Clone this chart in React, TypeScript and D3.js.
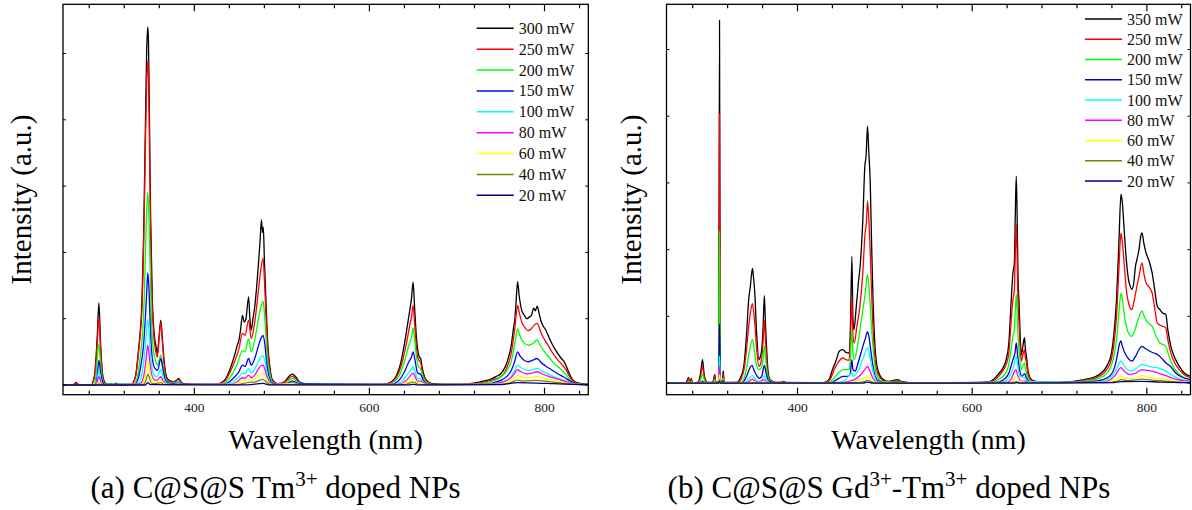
import React from 'react';
import * as d3 from 'd3';

type P = [number, number];

// ---------- Panel (a): C@S@S Tm3+ ----------
const a300: P[] = [[250,0],[262,0],[265,0.04],[268,0],[282,0],[286,0.15],[289,0.7],[291,1.24],[293,0.6],[296,0.1],[300,0.01],[308,0],[310.5,0.03],[313,0],[328,0.01],[333,0.15],[336,0.5],[338,0.78],[340,1.2],[342,2.2],[344,3.8],[345.5,5.0],[346.8,5.4],[347.6,5.2],[348.5,4.3],[350,2.6],[352,1.3],[354,0.8],[356,0.6],[357.8,0.48],[359.5,0.7],[361.7,0.98],[363.5,0.7],[366,0.3],[369,0.1],[373,0.06],[378,0.05],[382,0.1],[386,0.03],[395,0.01],[425,0.01],[435,0.08],[441,0.25],[446,0.45],[449,0.6],[451,0.68],[453,0.85],[455,1.05],[457,0.95],[459,1.0],[462,1.33],[463.5,1.0],[465,0.83],[467,1.0],[469,1.18],[471,1.45],[473,1.78],[475,2.15],[476.7,2.49],[477.8,2.3],[478.8,2.38],[480,1.9],[482,1.2],[484,0.6],[486.5,0.25],[489,0.08],[495,0.02],[503,0.05],[508,0.13],[512,0.165],[516,0.12],[520,0.05],[527,0.02],[540,0.01],[615,0.01],[625,0.05],[630,0.12],[636,0.35],[641,0.7],[644,0.95],[646,1.12],[648,1.3],[649.9,1.55],[651.5,1.2],[653.5,0.75],[655.5,0.5],[657,0.42],[658.6,0.4],[660,0.28],[663,0.12],[667,0.05],[672,0.02],[685,0.01],[700,0.01],[719,0.03],[730,0.06],[739,0.09],[745,0.13],[750,0.17],[755,0.27],[758,0.38],[762,0.6],[764.5,0.85],[766,0.98],[767.5,1.25],[769.2,1.56],[771,1.35],[773.9,1.13],[777,1.05],[780,1.0],[782,1.02],[785,1.05],[787.7,1.16],[789.5,1.12],[791.6,1.19],[793.5,1.1],[795.6,0.98],[798,0.9],[801.5,0.83],[805,0.72],[809.4,0.6],[813,0.52],[816,0.46],[819.2,0.4],[822,0.36],[825,0.28],[828,0.18],[832,0.08],[836,0.04],[842,0.02],[850,0.01]];
const a250: P[] = [[250,0],[263,0],[265,0.03],[268,0],[282,0],[286,0.12],[289,0.6],[291,1.04],[293,0.5],[296,0.08],[300,0.01],[328,0.01],[333,0.13],[336,0.45],[338,0.72],[340,1.1],[342,2.0],[344,3.5],[345.5,4.5],[346.8,4.89],[347.6,4.7],[348.5,3.9],[350,2.3],[352,1.15],[354,0.7],[356,0.5],[357.8,0.42],[359.5,0.65],[361.7,0.95],[363.5,0.65],[366,0.25],[369,0.08],[373,0.04],[382,0.08],[386,0.02],[395,0.01],[425,0.01],[435,0.06],[441,0.2],[446,0.35],[451,0.55],[455,0.78],[458,0.75],[462,0.98],[465,0.7],[469,0.95],[473,1.4],[476,1.75],[478.6,1.91],[480,1.6],[482,1.0],[484,0.5],[486.5,0.2],[489,0.06],[495,0.02],[503,0.04],[508,0.1],[512,0.13],[516,0.09],[520,0.04],[530,0.01],[615,0.01],[625,0.04],[630,0.1],[636,0.28],[641,0.55],[644,0.75],[646,0.9],[648,1.02],[649.9,1.2],[651.5,0.95],[653.5,0.6],[655.5,0.4],[658.6,0.33],[660,0.22],[663,0.1],[667,0.04],[675,0.01],[700,0.01],[719,0.02],[730,0.04],[739,0.07],[750,0.13],[755,0.2],[758,0.3],[762,0.48],[764.5,0.7],[766,0.85],[767.5,1.05],[769.2,1.2],[771,1.1],[773.9,0.95],[777,0.88],[781,0.82],[785,0.85],[788,0.9],[791.6,0.93],[795.6,0.8],[801.5,0.65],[805,0.58],[809.4,0.48],[815,0.38],[819.2,0.32],[825,0.22],[828,0.14],[832,0.07],[836,0.03],[842,0.015],[850,0.01]];
const a200: P[] = [[250,0],[286,0],[288,0.2],[291,0.62],[293,0.3],[297,0.02],[330,0.01],[335,0.12],[338,0.4],[341,0.8],[343,1.4],[345,2.4],[346.8,2.91],[348,2.6],[349.5,1.8],[351,1.0],[353,0.55],[356,0.35],[358,0.3],[361.7,0.45],[364,0.3],[367,0.1],[372,0.03],[382,0.05],[386,0.01],[430,0.01],[438,0.07],[444,0.18],[449,0.32],[455,0.52],[458,0.5],[462,0.7],[465,0.5],[469,0.68],[473,0.98],[476,1.18],[478.6,1.26],[480,1.1],[482,0.7],[484,0.35],[487,0.12],[490,0.03],[500,0.01],[506,0.05],[512,0.1],[518,0.05],[525,0.01],[620,0.01],[630,0.07],[636,0.2],[641,0.4],[645,0.6],[648,0.72],[649.9,0.86],[651.5,0.7],[654,0.4],[656,0.28],[658.6,0.24],[661,0.13],[665,0.04],[672,0.01],[720,0.01],[735,0.04],[745,0.08],[752,0.14],[758,0.24],[762,0.36],[765,0.55],[767,0.7],[769.2,0.85],[771,0.78],[774,0.68],[778,0.62],[782,0.6],[787,0.63],[791.6,0.68],[795,0.6],[800,0.5],[805,0.42],[810,0.34],[815,0.28],[820,0.22],[825,0.15],[829,0.08],[834,0.03],[842,0.01],[850,0.01]];
const a150: P[] = [[250,0],[287,0],[289,0.12],[291,0.37],[293,0.18],[297,0.01],[332,0.01],[336,0.1],[339,0.3],[342,0.6],[344,1.0],[345.8,1.45],[346.8,1.69],[348,1.5],[350,0.8],[352,0.4],[355,0.25],[358,0.22],[361.7,0.4],[364,0.25],[367,0.07],[372,0.02],[382,0.03],[388,0.01],[432,0.01],[440,0.05],[446,0.12],[451,0.2],[455,0.3],[458,0.28],[462,0.4],[465,0.3],[469,0.4],[473,0.58],[476,0.7],[478.6,0.75],[480.5,0.62],[483,0.3],[486,0.1],[490,0.02],[505,0.02],[512,0.06],[520,0.02],[625,0.01],[633,0.06],[640,0.2],[645,0.35],[648,0.42],[649.9,0.5],[652,0.38],[655,0.18],[658.6,0.16],[662,0.06],[668,0.01],[725,0.01],[740,0.03],[750,0.07],[757,0.13],[762,0.22],[766,0.36],[769.2,0.5],[772,0.44],[776,0.38],[781,0.35],[786,0.37],[791.6,0.4],[796,0.34],[802,0.28],[808,0.23],[815,0.17],[822,0.12],[828,0.07],[834,0.03],[842,0.01],[850,0.01]];
const a100: P[] = [[250,0],[288,0],[291,0.22],[294,0.03],[297,0],[336,0.02],[340,0.15],[343,0.45],[345.5,0.8],[346.8,0.99],[348,0.85],[350,0.45],[353,0.18],[357,0.12],[361.7,0.23],[364,0.14],[368,0.03],[375,0.01],[382,0.02],[388,0.005],[435,0.01],[444,0.05],[451,0.12],[455,0.18],[458,0.17],[462,0.25],[465,0.18],[469,0.24],[473,0.35],[476,0.42],[478.6,0.44],[480.5,0.36],[483,0.18],[486,0.06],[490,0.01],[505,0.01],[512,0.04],[520,0.01],[630,0.01],[638,0.07],[644,0.17],[648,0.24],[649.9,0.28],[652,0.2],[655,0.1],[658.6,0.09],[663,0.03],[670,0.005],[730,0.01],[745,0.03],[755,0.06],[762,0.13],[766,0.22],[769.2,0.3],[773,0.26],[780,0.22],[786,0.23],[791.6,0.25],[797,0.21],[805,0.16],[812,0.12],[820,0.08],[828,0.04],[836,0.015],[850,0.005]];
const a80: P[] = [[250,0],[288,0],[291,0.125],[294,0.02],[297,0],[338,0.02],[342,0.12],[345,0.4],[346.8,0.6],[348,0.5],[350,0.26],[353,0.1],[357,0.07],[361.7,0.125],[364,0.07],[369,0.01],[382,0.01],[440,0.01],[449,0.05],[455,0.11],[458,0.1],[462,0.15],[465,0.11],[469,0.15],[473,0.24],[476,0.29],[478.6,0.3],[480.5,0.24],[483,0.12],[486,0.04],[490,0.01],[512,0.03],[520,0.005],[632,0.01],[640,0.05],[645,0.11],[649.9,0.18],[652,0.13],[655,0.06],[658.6,0.06],[663,0.02],[670,0.005],[735,0.01],[750,0.04],[760,0.09],[765,0.16],[769.2,0.23],[773,0.2],[780,0.17],[786,0.18],[791.6,0.2],[797,0.17],[805,0.13],[812,0.1],[820,0.07],[828,0.04],[836,0.015],[850,0.005]];
const a60: P[] = [[250,0],[288,0],[291,0.05],[294,0.005],[340,0.01],[344,0.12],[346.8,0.36],[348.5,0.26],[351,0.08],[355,0.04],[361.7,0.075],[365,0.03],[370,0.005],[445,0.01],[455,0.06],[462,0.09],[465,0.07],[469,0.09],[474,0.15],[478.6,0.18],[481,0.13],[484,0.05],[489,0.005],[512,0.02],[520,0.003],[635,0.005],[643,0.04],[649.9,0.09],[653,0.05],[658.6,0.03],[665,0.005],[740,0.01],[755,0.03],[763,0.07],[769.2,0.15],[774,0.12],[781,0.11],[791.6,0.13],[800,0.1],[810,0.07],[820,0.045],[830,0.02],[840,0.008],[850,0.003]];
const a40: P[] = [[250,0],[290,0],[291,0.02],[293,0],[342,0.01],[345,0.08],[346.8,0.165],[348.5,0.12],[351,0.03],[356,0.02],[361.7,0.035],[366,0.005],[450,0.005],[462,0.04],[469,0.045],[474,0.07],[478.6,0.085],[482,0.05],[487,0.005],[640,0.005],[649.9,0.045],[655,0.015],[665,0.002],[745,0.01],[760,0.03],[769.2,0.075],[776,0.06],[791.6,0.07],[805,0.05],[820,0.03],[835,0.012],[850,0.003]];
const a20: P[] = [[250,0],[344,0],[346.8,0.035],[350,0.005],[460,0.003],[478.6,0.025],[485,0.003],[645,0.003],[649.9,0.01],[655,0.002],[750,0.005],[769.2,0.035],[791.6,0.03],[810,0.02],[830,0.01],[850,0.002]];

const labelsA = ['300 mW', '250 mW', '200 mW', '150 mW', '100 mW', '80 mW', '60 mW', '40 mW', '20 mW'];
const colorsA = ['#000000', '#FF0000', '#00FF00', '#0000FF', '#00FFFF', '#FF00FF', '#FFFF00', '#808000', '#000080'];
const seriesA = [a300, a250, a200, a150, a100, a80, a60, a40, a20];

// ---------- Panel (b): C@S@S Gd3+-Tm3+ ----------
const b350: P[] = [[250,0],[272,0],[274,0.05],[275.3,0.085],[276.5,0.01],[277.5,0.03],[278.4,0.07],[279.5,0.005],[286,0.01],[289,0.15],[291.2,0.35],[293.5,0.1],[297,0.01],[303,0.01],[305.2,0.125],[306.5,0.01],[309.8,0.02],[310.7,5.44],[311.6,0.05],[314,0.03],[315,0.18],[316,0.01],[330,0.01],[334.8,0.08],[338.7,0.27],[341.5,0.7],[344.1,1.25],[346,1.45],[348.4,1.72],[349.5,1.6],[351.1,1.35],[353,0.8],[355.8,0.35],[357.5,0.4],[359,0.5],[360.5,0.8],[362,1.31],[363.3,0.9],[364.7,0.5],[366.5,0.15],[368.6,0.05],[375,0.01],[382,0.01],[384.2,0.025],[387,0.005],[430,0.005],[436,0.05],[440,0.2],[444.5,0.35],[448,0.48],[452.2,0.5],[455.3,0.46],[458.8,0.45],[460.5,0.8],[462.3,1.9],[463.5,0.95],[464.7,0.8],[467,1.1],[469.7,1.5],[472,1.8],[474.8,2.45],[477.1,3.25],[478.5,3.4],[480.2,3.85],[481.5,3.5],[483.3,3.0],[485,2.0],[486.5,1.25],[488.5,0.6],[491.1,0.25],[495,0.1],[498.9,0.05],[505,0.02],[510,0.04],[514.5,0.05],[520,0.02],[530,0.005],[600,0.005],[620,0.02],[631.1,0.15],[635,0.22],[638.9,0.35],[642,0.6],[644.5,1.2],[646.7,1.65],[648.3,1.8],[649.5,2.6],[650.5,3.1],[651.5,2.5],[652.5,1.6],[653.7,1.2],[655,0.7],[656.4,0.42],[658,0.55],[659.9,0.68],[661,0.5],[662.2,0.4],[664,0.18],[668.1,0.05],[675,0.02],[700,0.01],[728.3,0.05],[740,0.09],[747.8,0.15],[754,0.25],[759.5,0.45],[762,0.7],[765.3,1.25],[768,2.1],[770.4,2.83],[772,2.7],[774.3,2.25],[776.5,1.85],[779,1.55],[781,1.45],[782.8,1.4],[785,1.5],[787,1.75],[788.6,1.85],[791,2.0],[793,2.2],[794.5,2.25],[796.5,2.1],[799.1,1.95],[802,1.85],[806.1,1.65],[809,1.4],[812,1.15],[815,1.1],[818,1.05],[821.7,1.03],[824,0.8],[827.5,0.55],[832,0.38],[837.2,0.25],[843,0.15],[850,0.1]];
const b250: P[] = [[250,0],[273,0],[275.3,0.07],[276.5,0.01],[278.4,0.06],[279.5,0.005],[287,0.01],[289,0.1],[291.2,0.25],[293.5,0.07],[297,0.005],[303,0.005],[305.2,0.11],[306.5,0.005],[309.8,0.02],[310.7,4.04],[311.6,0.04],[314,0.02],[315,0.14],[316,0.005],[332,0.01],[336,0.08],[338.7,0.2],[342,0.55],[344.1,0.85],[346,1.05],[348.4,1.19],[349.5,1.1],[351.1,0.9],[353,0.55],[355.8,0.25],[358,0.3],[359,0.38],[360.5,0.6],[362,0.94],[363.3,0.65],[364.7,0.35],[366.5,0.1],[369,0.03],[375,0.005],[384,0.015],[388,0.003],[432,0.005],[438,0.07],[442,0.2],[446,0.3],[452.2,0.375],[455.3,0.35],[459,0.34],[460.5,0.6],[462.3,1.3],[463.5,0.7],[465,0.6],[468,0.85],[471,1.1],[474.8,1.65],[477.1,2.2],[478.8,2.4],[480.2,2.73],[481.5,2.5],[483.3,1.95],[485,1.3],[486.5,0.8],[488.5,0.4],[491.1,0.17],[495,0.07],[500,0.03],[510,0.03],[514.5,0.04],[520,0.015],[530,0.005],[610,0.005],[622,0.02],[631.1,0.11],[636,0.2],[639,0.28],[642,0.45],[644.5,0.9],[646.7,1.25],[648.3,1.4],[649.5,2.0],[650.5,2.38],[651.5,1.9],[652.5,1.2],[653.7,0.9],[655,0.5],[656.4,0.33],[658,0.42],[659.9,0.5],[661,0.38],[662.2,0.3],[664,0.13],[668,0.04],[675,0.015],[700,0.01],[728,0.04],[740,0.07],[748,0.12],[754,0.2],[759.5,0.36],[762,0.55],[765.3,1.0],[768,1.7],[770.4,2.25],[772,2.1],[774.3,1.75],[776.5,1.4],[779,1.2],[782.8,1.1],[785,1.2],[788.6,1.45],[791,1.6],[794.5,1.8],[796.5,1.65],[799.1,1.5],[802,1.45],[806.1,1.35],[809,1.12],[812,0.9],[815,0.87],[818,0.85],[821.7,0.83],[824,0.65],[827.5,0.45],[832,0.3],[837.2,0.2],[843,0.12],[850,0.08]];
const b200: P[] = [[250,0],[274,0],[275.3,0.03],[277,0],[278.4,0.02],[280,0],[288,0.01],[291.2,0.125],[294,0.02],[298,0],[304,0.005],[305.2,0.05],[306.5,0.005],[309.8,0.01],[310.7,2.28],[311.6,0.02],[315,0.07],[316,0.005],[335,0.01],[339,0.08],[342,0.25],[344.1,0.42],[346,0.55],[348.4,0.65],[350,0.55],[352,0.35],[355.8,0.2],[358,0.22],[360.5,0.35],[362,0.55],[363.5,0.38],[365,0.18],[368,0.04],[375,0.005],[384,0.008],[435,0.005],[442,0.08],[447,0.15],[452.2,0.2],[455.3,0.2],[459,0.2],[460.5,0.35],[462.3,0.8],[463.5,0.45],[465,0.35],[468,0.5],[471,0.75],[474.8,1.1],[477.1,1.3],[480.2,1.63],[481.5,1.5],[483.3,1.15],[485,0.8],[487,0.45],[489,0.22],[492,0.08],[498,0.02],[510,0.02],[514.5,0.03],[520,0.01],[530,0.003],[620,0.01],[631,0.06],[638.9,0.16],[642,0.28],[644.5,0.5],[646.7,0.7],[648.3,0.8],[649.5,1.1],[650.5,1.33],[651.5,1.05],[652.5,0.7],[654,0.45],[656.4,0.2],[658,0.25],[659.9,0.3],[661,0.22],[663,0.1],[668,0.02],[700,0.005],[728,0.03],[740,0.05],[750,0.1],[757,0.2],[762,0.38],[765.3,0.65],[768,1.05],[770.4,1.35],[772,1.25],[775,0.95],[779,0.75],[782.8,0.7],[786,0.78],[790,0.95],[794.5,1.08],[797,1.0],[800,0.92],[806.1,0.85],[810,0.72],[815,0.6],[821.7,0.55],[825,0.42],[830,0.25],[837.2,0.13],[845,0.07],[850,0.05]];
const b150: P[] = [[250,0],[290,0],[291.2,0.03],[293,0],[309.8,0.005],[310.7,0.89],[311.6,0.01],[315,0.02],[316,0],[337,0.005],[341,0.08],[344,0.18],[346,0.24],[348,0.265],[350,0.2],[353,0.12],[356,0.07],[359,0.1],[362,0.265],[364,0.15],[367,0.03],[375,0.003],[438,0.005],[445,0.05],[452.2,0.1],[458,0.1],[460.5,0.15],[462.3,0.35],[463.5,0.2],[466,0.18],[470,0.33],[474.8,0.55],[478,0.68],[480.2,0.77],[482,0.68],[484,0.48],[486.5,0.25],[489,0.1],[493,0.03],[500,0.005],[514.5,0.012],[525,0.003],[625,0.005],[635,0.04],[642,0.15],[646.7,0.35],[649,0.45],[650.5,0.6],[652,0.42],[654,0.22],[657,0.1],[659.9,0.14],[662,0.08],[666,0.02],[700,0.003],[735,0.02],[750,0.05],[758,0.11],[763,0.23],[766,0.4],[768,0.55],[770.4,0.63],[772,0.55],[776,0.42],[780,0.35],[783,0.33],[787,0.4],[791,0.5],[794.5,0.55],[798,0.52],[803,0.48],[808,0.45],[812,0.43],[817,0.37],[822,0.3],[827,0.25],[833,0.15],[840,0.09],[850,0.05]];
const b100: P[] = [[250,0],[309.8,0],[310.7,0.41],[311.6,0.005],[340,0.005],[344,0.06],[348.4,0.11],[351,0.07],[355,0.03],[359,0.04],[362,0.11],[364.5,0.05],[368,0.005],[445,0.01],[455,0.05],[462.3,0.15],[464,0.1],[470,0.2],[476,0.4],[480.2,0.53],[482.5,0.42],[485,0.25],[488,0.1],[492,0.02],[500,0.003],[635,0.01],[642,0.08],[647,0.22],[650.5,0.4],[652.5,0.22],[655,0.1],[659.9,0.08],[664,0.02],[740,0.01],[752,0.04],[760,0.1],[765,0.2],[770.4,0.33],[773,0.28],[778,0.2],[783,0.18],[788,0.22],[794.5,0.28],[800,0.26],[806,0.24],[812,0.23],[818,0.2],[825,0.15],[831,0.1],[838,0.06],[845,0.04],[850,0.03]];
const b80: P[] = [[250,0],[309.8,0],[310.7,0.25],[311.6,0.003],[342,0.005],[346,0.04],[348.4,0.06],[351,0.035],[356,0.015],[362,0.05],[365,0.01],[450,0.005],[460,0.03],[465,0.05],[472,0.12],[477,0.2],[480.2,0.25],[483,0.18],[486,0.08],[490,0.02],[498,0.003],[640,0.01],[645,0.07],[650,0.2],[652.5,0.1],[656,0.03],[660,0.03],[665,0.005],[745,0.01],[755,0.03],[763,0.1],[770.4,0.23],[774,0.18],[780,0.13],[786,0.14],[794.5,0.2],[800,0.19],[808,0.17],[815,0.14],[822,0.11],[830,0.07],[840,0.04],[850,0.02]];
const b60: P[] = [[250,0],[309.8,0],[310.7,0.12],[311.6,0],[345,0.005],[348.4,0.025],[352,0.01],[362,0.02],[366,0],[455,0.005],[465,0.02],[472,0.05],[477,0.08],[480.2,0.1],[484,0.06],[488,0.02],[494,0.003],[642,0.005],[647,0.04],[651,0.1],[654,0.03],[660,0.01],[665,0.002],[750,0.01],[762,0.04],[770.4,0.1],[776,0.07],[785,0.07],[794.5,0.11],[802,0.09],[812,0.07],[822,0.05],[832,0.03],[850,0.01]];
const b40: P[] = [[250,0],[309.8,0],[310.7,0.05],[311.6,0],[470,0.005],[476,0.02],[480.2,0.04],[486,0.01],[492,0],[645,0.005],[651,0.02],[656,0.003],[755,0.005],[765,0.02],[770.4,0.05],[778,0.035],[794.5,0.06],[805,0.045],[820,0.03],[835,0.015],[850,0.005]];
const b20: P[] = [[250,0],[310,0],[310.7,0.02],[311.4,0],[475,0],[480.2,0.015],[486,0],[648,0],[651,0.008],[654,0],[760,0.005],[770.4,0.02],[794.5,0.025],[815,0.015],[835,0.008],[850,0.003]];

const labelsB = ['350 mW', '250 mW', '200 mW', '150 mW', '100 mW', '80 mW', '60 mW', '40 mW', '20 mW'];
const colorsB = ['#000000', '#FF0000', '#00FF00', '#0000CD', '#00FFFF', '#FF00FF', '#FFFF00', '#808000', '#000080'];
const seriesB = [b350, b250, b200, b150, b100, b80, b60, b40, b20];

const xDomain: [number, number] = [250, 850];
const xMinorTicks = [280, 320, 360, 400, 440, 480, 520, 560, 600, 640, 680, 720, 760, 800, 840];
const xMajorTicks = [400, 600, 800];
const yTicks = [0, 1, 2, 3, 4, 5];

const FONT = '"Liberation Serif", "Times New Roman", serif';

type PanelProps = {
  id: string;
  left: number; right: number; top: number; bottom: number;
  yDomain: [number, number];
  series: P[][]; labels: string[]; colors: string[];
  legendX: number; legendY: number; legendStep: number;
  yLabelX: number;
};

function Panel(p: PanelProps) {
  const x = d3.scaleLinear().domain(xDomain).range([p.left, p.right]);
  const y = d3.scaleLinear().domain(p.yDomain).range([p.bottom, p.top]);
  const line = d3.line<P>().x(d => x(d[0])).y(d => y(d[1])).curve(d3.curveMonotoneX);
  const cx = (p.left + p.right) / 2;
  const cy = (p.top + p.bottom) / 2;
  return (
    <g>
      <defs>
        <clipPath id={p.id}>
          <rect x={p.left} y={p.top} width={p.right - p.left} height={p.bottom - p.top} />
        </clipPath>
      </defs>
      <g clipPath={`url(#${p.id})`}>
        {p.series.map((s, i) => (
          <path key={i} d={line(s) || ''} fill="none" stroke={p.colors[i]} strokeWidth={1.3} strokeLinejoin="round" />
        ))}
      </g>
      {/* x ticks, bottom and top, inward */}
      {xMinorTicks.map(t => {
        const major = xMajorTicks.includes(t);
        const len = major ? 7 : 4;
        return (
          <g key={t}>
            <line x1={x(t)} x2={x(t)} y1={p.bottom} y2={p.bottom - len} stroke="#000" strokeWidth={1.2} />
            <line x1={x(t)} x2={x(t)} y1={p.top} y2={p.top + len} stroke="#000" strokeWidth={1.2} />
          </g>
        );
      })}
      {yTicks.map(t => (
        <g key={t}>
          <line x1={p.left} x2={p.left + 3} y1={y(t)} y2={y(t)} stroke="#000" strokeWidth={1} />
          <line x1={p.right} x2={p.right - 3} y1={y(t)} y2={y(t)} stroke="#000" strokeWidth={1} />
        </g>
      ))}
      <rect x={p.left} y={p.top} width={p.right - p.left} height={p.bottom - p.top} fill="none" stroke="#000" strokeWidth={1.3} />
      {xMajorTicks.map(t => (
        <text key={t} x={x(t)} y={p.bottom + 17.5} textAnchor="middle" fontFamily={FONT} fontSize={13.5} fill="#222">{t}</text>
      ))}
      {/* legend */}
      {p.labels.map((l, i) => {
        const ly = p.legendY + i * p.legendStep;
        return (
          <g key={l}>
            <line x1={p.legendX} x2={p.legendX + 37} y1={ly} y2={ly} stroke={p.colors[i]} strokeWidth={1.5} />
            <text x={p.legendX + 42} y={ly + 5.5} fontFamily={FONT} fontSize={16} fill="#111">{l}</text>
          </g>
        );
      })}
      <text x={cx} y={449} textAnchor="middle" fontFamily={FONT} fontSize={28} fill="#000">Wavelength (nm)</text>
      <text transform={`translate(${p.yLabelX},${cy}) rotate(-90)`} textAnchor="middle" fontFamily={FONT} fontSize={29} fill="#000">Intensity (a.u.)</text>
    </g>
  );
}

export default function App() {
  return (
    <svg width={1192} height={510} style={{ position: 'absolute', left: 0, top: 0, background: '#fff' }}>
      <rect width={1192} height={510} fill="#fff" />
      <Panel id="clipA" left={63} right={588.3} top={4.3} bottom={394.7} yDomain={[-0.146, 5.742]}
        series={seriesA} labels={labelsA} colors={colorsA}
        legendX={476.7} legendY={28.3} legendStep={20.87} yLabelX={31} />
      <Panel id="clipB" left={666.5} right={1190.5} top={4.3} bottom={394.7} yDomain={[-0.175, 5.678]}
        series={seriesB} labels={labelsB} colors={colorsB}
        legendX={1085} legendY={19} legendStep={20.25} yLabelX={641} />
      <text x={275.5} y={498} textAnchor="middle" fontFamily={FONT} fontSize={31} fill="#000">
        (a) C@S@S Tm<tspan dy={-12} fontSize={21}>3+</tspan><tspan dy={12}> doped NPs</tspan>
      </text>
      <text x={889} y={498} textAnchor="middle" fontFamily={FONT} fontSize={31} fill="#000">
        (b) C@S@S Gd<tspan dy={-12} fontSize={21}>3+</tspan><tspan dy={12}>-Tm</tspan><tspan dy={-12} fontSize={21}>3+</tspan><tspan dy={12}> doped NPs</tspan>
      </text>
    </svg>
  );
}
